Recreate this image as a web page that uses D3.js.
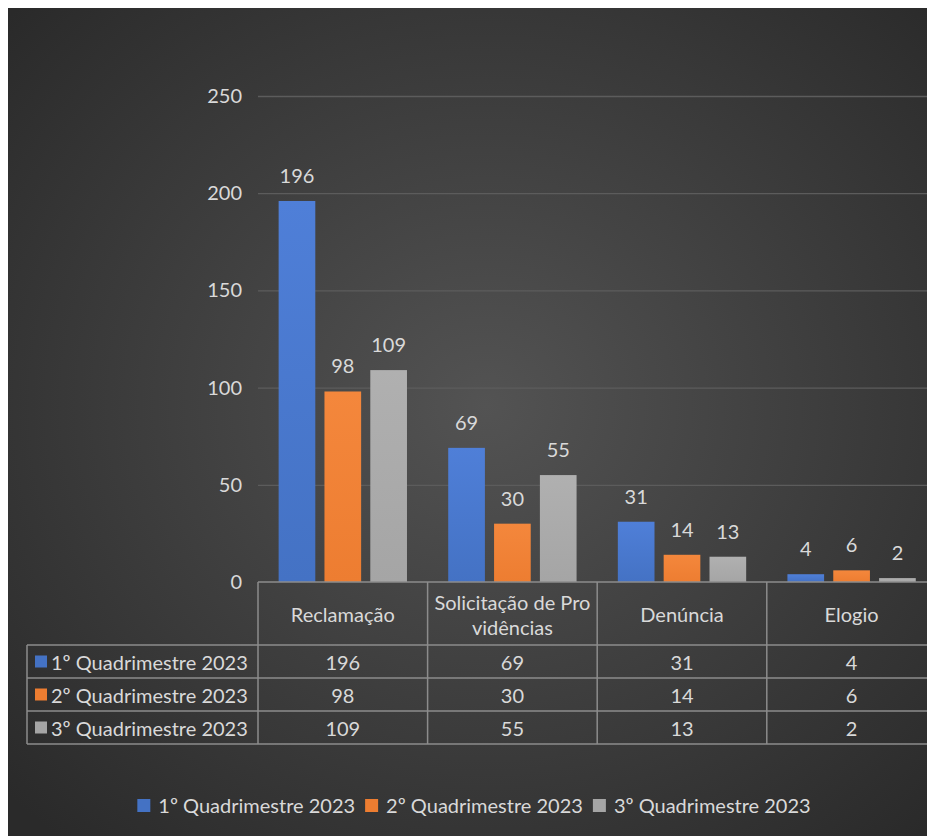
<!DOCTYPE html>
<html>
<head>
<meta charset="utf-8">
<script src="https://cdn.jsdelivr.net/npm/d3@7"></script>
<style>
  body { margin: 0; background: #fff; }
  text { font-family: Lato, "Open Sans", sans-serif; fill: #d9d9d9; }
</style>
</head>
<body>
<div id="chart"></div>
<script>
// data
var categories = ["Reclamação", "Solicitação de Providências", "Denúncia", "Elogio"];
var categoryLines = [["Reclamação"], ["Solicitação de Pro", "vidências"], ["Denúncia"], ["Elogio"]];
var seriesNames = ["1º Quadrimestre 2023", "2º Quadrimestre 2023", "3º Quadrimestre 2023"];
var q1 = [196, 69, 31, 4];
var q2 = [98, 30, 14, 6];
var q3 = [109, 55, 13, 2];
var yTicks = [0, 50, 100, 150, 200, 250];
var colors = ["#4472c4", "#ed7d31", "#a5a5a5"];
var topColors = ["#4f7fd8", "#f4873c", "#b0b0b0"];

var seriesValues = [q1, q2, q3];

var svgWidth = 927;
var svgHeight = 836;
var fontSize = "20px";

var svg = d3.select("#chart")
  .append("svg")
  .attr("width", svgWidth)
  .attr("height", svgHeight);

var defs = svg.append("defs");

// dark background with radial light
var bg = defs.append("radialGradient")
  .attr("id", "bg")
  .attr("cx", "52%").attr("cy", "48%").attr("r", "70%");
bg.append("stop").attr("offset", "0%").attr("stop-color", "#535353");
bg.append("stop").attr("offset", "100%").attr("stop-color", "#2a2a2a");

colors.forEach(function(c, i) {
  var g = defs.append("linearGradient")
    .attr("id", "bar" + i)
    .attr("x1", 0).attr("y1", 0).attr("x2", 0).attr("y2", 1);
  g.append("stop").attr("offset", "0%").attr("stop-color", topColors[i]);
  g.append("stop").attr("offset", "100%").attr("stop-color", c);
});

svg.append("rect")
  .attr("x", 8).attr("y", 8)
  .attr("width", svgWidth - 8).attr("height", svgHeight - 8)
  .attr("fill", "url(#bg)");

// scales
var plotLeft = 258;
var bandWidth = 169.6;
var x0 = d3.scaleBand()
  .domain(categories)
  .range([plotLeft, plotLeft + bandWidth * categories.length]);

var x1 = d3.scaleBand()
  .domain(seriesNames)
  .range([0, x0.bandwidth()])
  .paddingInner(0.2)
  .paddingOuter(0.45);

var y = d3.scaleLinear()
  .domain([0, 250])
  .range([582, 96]);

// gridlines
var leftAxis = d3.axisLeft(y)
  .tickValues(yTicks)
  .tickSize(-(svgWidth - plotLeft))
  .tickPadding(16);

var yAxis = svg.append("g")
  .attr("transform", `translate(${plotLeft}, 0)`)
  .call(leftAxis);
yAxis.select(".domain").remove();
yAxis.selectAll(".tick line")
  .attr("stroke", "#5c5c5c")
  .attr("stroke-width", 1.3)
  .filter(d => d === 0).remove();
yAxis.selectAll(".tick text")
  .attr("font-size", fontSize)
  .attr("fill", "#d9d9d9")
  .style("font-family", "Lato, 'Open Sans', sans-serif");

// bars
var groups = svg.selectAll(".cat")
  .data(categories)
  .enter()
  .append("g")
  .attr("class", "cat")
  .attr("transform", d => `translate(${x0(d)}, 0)`);

groups.selectAll("rect")
  .data((d, ci) => seriesNames.map((s, si) => ({ s: s, si: si, v: seriesValues[si][ci] })))
  .enter()
  .append("rect")
  .attr("x", d => x1(d.s))
  .attr("y", d => y(d.v))
  .attr("width", x1.bandwidth())
  .attr("height", d => y(0) - y(d.v))
  .attr("fill", d => `url(#bar${d.si})`);

groups.selectAll(".lbl")
  .data((d, ci) => seriesNames.map((s, si) => ({ s: s, si: si, v: seriesValues[si][ci] })))
  .enter()
  .append("text")
  .attr("class", "lbl")
  .attr("x", d => x1(d.s) + x1.bandwidth() / 2)
  .attr("y", d => y(d.v) - 18)
  .attr("text-anchor", "middle")
  .attr("font-size", fontSize)
  .text(d => d.v);

// data table
var lineColor = "#8c8c8c";
var tableTop = y(0);
var headerBottom = 645;
var rowH = 33;
var tableLeft = 27;
var tableRight = x0.range()[1];
var tableBottom = headerBottom + rowH * seriesNames.length;
var table = svg.append("g");

// horizontal lines
table.append("line")
  .attr("x1", plotLeft).attr("x2", tableRight)
  .attr("y1", tableTop).attr("y2", tableTop)
  .attr("stroke", lineColor).attr("stroke-width", 1.5);
d3.range(seriesNames.length + 1).forEach(function(i) {
  table.append("line")
    .attr("x1", tableLeft).attr("x2", tableRight)
    .attr("y1", headerBottom + i * rowH).attr("y2", headerBottom + i * rowH)
    .attr("stroke", lineColor).attr("stroke-width", 1.5);
});
// vertical lines
table.append("line")
  .attr("x1", tableLeft).attr("x2", tableLeft)
  .attr("y1", headerBottom).attr("y2", tableBottom)
  .attr("stroke", lineColor).attr("stroke-width", 1.5);
categories.forEach(function(c) {
  table.append("line")
    .attr("x1", x0(c)).attr("x2", x0(c))
    .attr("y1", tableTop).attr("y2", tableBottom)
    .attr("stroke", lineColor).attr("stroke-width", 1.5);
});

// header text
categories.forEach(function(c, ci) {
  var lines = categoryLines[ci];
  var cy = 615;
  lines.forEach(function(l, li) {
    table.append("text")
      .attr("x", x0(c) + x0.bandwidth() / 2)
      .attr("y", cy + 7 + (li - (lines.length - 1) / 2) * 25)
      .attr("text-anchor", "middle")
      .attr("font-size", fontSize)
      .text(l);
  });
});

// rows
seriesNames.forEach(function(s, si) {
  var ry = headerBottom + si * rowH;
  table.append("rect")
    .attr("x", 35).attr("y", ry + rowH / 2 - 6)
    .attr("width", 12).attr("height", 12)
    .attr("fill", colors[si]);
  table.append("text")
    .attr("x", 51).attr("y", ry + rowH / 2 + 8)
    .attr("font-size", fontSize)
    .text(s);
  categories.forEach(function(c, ci) {
    table.append("text")
      .attr("x", x0(c) + x0.bandwidth() / 2)
      .attr("y", ry + rowH / 2 + 8)
      .attr("text-anchor", "middle")
      .attr("font-size", fontSize)
      .text(seriesValues[si][ci]);
  });
});

// legend, centred under the chart
var legend = svg.append("g");
var lx = 0;
seriesNames.forEach(function(s, si) {
  legend.append("rect")
    .attr("x", lx).attr("y", -7)
    .attr("width", 13).attr("height", 13)
    .attr("fill", colors[si]);
  var t = legend.append("text")
    .attr("x", lx + 21).attr("y", 7)
    .attr("font-size", fontSize)
    .text(s);
  lx += 21 + t.node().getComputedTextLength() + 10;
});
legend.attr("transform", `translate(${474 - (lx - 10) / 2}, 806)`);
</script>
</body>
</html>
